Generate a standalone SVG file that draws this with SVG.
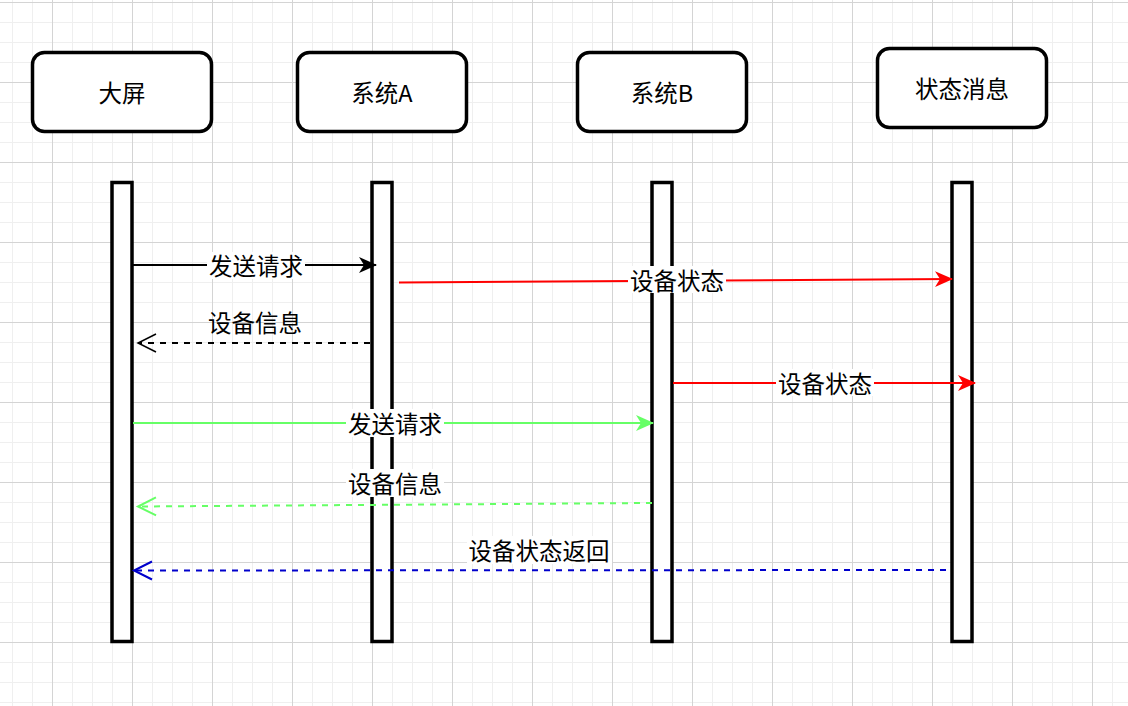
<svg xmlns="http://www.w3.org/2000/svg" width="1128" height="706" viewBox="0 0 1128 706">
<style>
.node{fill:#ffffff;stroke:#000000;stroke-width:3.5}
.bar{fill:#ffffff;stroke:#000000;stroke-width:3.5}
.t{font-family:"Noto Sans CJK SC","Noto Sans",sans-serif;font-size:23.5px;fill:#000000;text-anchor:middle;dominant-baseline:central}
.lbg{fill:#ffffff}
.e{fill:none;stroke-width:2}
.dash{stroke-dasharray:6 6}
</style>
<defs>
<pattern id="minor" patternUnits="userSpaceOnUse" x="12" y="2" width="20" height="20">
<path d="M0.5,0 V20 M0,0.5 H20" fill="none" stroke="#efefef" stroke-width="1"/>
</pattern>
<pattern id="major" patternUnits="userSpaceOnUse" x="52" y="2" width="80" height="80">
<path d="M0.5,0 V80 M0,0.5 H80" fill="none" stroke="#d4d4d4" stroke-width="1"/>
</pattern>
<marker id="fBlack" markerUnits="userSpaceOnUse" viewBox="0 0 18 18" markerWidth="18" markerHeight="18" refX="17" refY="9" orient="auto"><path d="M0,1 L18,9 L0,17 L5,9 Z" fill="#000000"/></marker>
<marker id="fRed" markerUnits="userSpaceOnUse" viewBox="0 0 18 18" markerWidth="18" markerHeight="18" refX="17" refY="9" orient="auto"><path d="M0,1 L18,9 L0,17 L5,9 Z" fill="#ff0000"/></marker>
<marker id="fGreen" markerUnits="userSpaceOnUse" viewBox="0 0 18 18" markerWidth="18" markerHeight="18" refX="17" refY="9" orient="auto"><path d="M0,1 L18,9 L0,17 L5,9 Z" fill="#66ff66"/></marker>
<marker id="oBlack" markerUnits="userSpaceOnUse" viewBox="0 0 24 24" markerWidth="24" markerHeight="24" refX="21" refY="12" orient="auto"><path d="M3,3 L21,12 L3,21" fill="none" stroke="#000000" stroke-width="1.5"/></marker>
<marker id="oGreen" markerUnits="userSpaceOnUse" viewBox="0 0 24 24" markerWidth="24" markerHeight="24" refX="21" refY="12" orient="auto"><path d="M3,3 L21,12 L3,21" fill="none" stroke="#66ff66" stroke-width="2"/></marker>
<marker id="oBlue" markerUnits="userSpaceOnUse" viewBox="0 0 24 24" markerWidth="24" markerHeight="24" refX="21" refY="12" orient="auto"><path d="M3,3 L21,12 L3,21" fill="none" stroke="#0000cc" stroke-width="2"/></marker>
</defs>
<rect x="0" y="0" width="1128" height="706" fill="#ffffff"/>
<rect x="0" y="0" width="1128" height="706" fill="url(#minor)"/>
<rect x="0" y="0" width="1128" height="706" fill="url(#major)"/>

<g id="node-dapin">
<rect class="node" x="32.5" y="52.5" width="179" height="79" rx="12"/>
<text class="t" x="122" y="92">大屏</text>
<rect class="bar" x="112" y="182.5" width="20" height="459"/>
</g>
<g id="node-xitongA">
<rect class="node" x="297.5" y="52.5" width="169" height="79" rx="12"/>
<text class="t" x="382" y="92">系统A</text>
<rect class="bar" x="372" y="182.5" width="20" height="459"/>
</g>
<g id="node-xitongB">
<rect class="node" x="577.5" y="52.5" width="169" height="79" rx="12"/>
<text class="t" x="662" y="92">系统B</text>
<rect class="bar" x="652" y="182.5" width="20" height="459"/>
</g>
<g id="node-zhuangtai">
<rect class="node" x="877.5" y="48.5" width="169" height="79" rx="12"/>
<text class="t" x="962" y="88">状态消息</text>
<rect class="bar" x="952" y="182.5" width="20" height="459"/>
</g>

<g id="connectors">
<g id="e1">
<line class="e" x1="133" y1="265" x2="376" y2="265" stroke="#000000" marker-end="url(#fBlack)"/>
<rect class="lbg" x="207" y="252" width="98" height="27"/>
<text class="t" x="256" y="265">发送请求</text>
</g>
<g id="e2">
<line class="e" x1="399" y1="282.5" x2="952" y2="279" stroke="#ff0000" marker-end="url(#fRed)"/>
<rect class="lbg" x="628" y="266" width="98" height="27"/>
<text class="t" x="677" y="280">设备状态</text>
</g>
<g id="e3">
<line class="e dash" x1="370" y1="343" x2="138" y2="343" stroke="#000000" marker-end="url(#oBlack)"/>
<text class="t" x="255" y="322">设备信息</text>
</g>
<g id="e4">
<line class="e" x1="673" y1="383" x2="975" y2="383" stroke="#ff0000" marker-end="url(#fRed)"/>
<rect class="lbg" x="776" y="369" width="98" height="27"/>
<text class="t" x="825" y="383">设备状态</text>
</g>
<g id="e5">
<line class="e" x1="133" y1="423" x2="653" y2="423" stroke="#66ff66" marker-end="url(#fGreen)"/>
<rect class="lbg" x="346" y="409" width="98" height="28"/>
<text class="t" x="395" y="423">发送请求</text>
</g>
<g id="e6">
<line class="e dash" x1="652" y1="503" x2="138" y2="506.5" stroke="#66ff66" marker-end="url(#oGreen)"/>
<rect class="lbg" x="346" y="469" width="98" height="28"/>
<text class="t" x="395" y="483">设备信息</text>
</g>
<g id="e7">
<line class="e dash" x1="946" y1="570" x2="134" y2="570.5" stroke="#0000cc" marker-end="url(#oBlue)"/>
<rect class="lbg" x="467" y="536" width="145" height="28"/>
<text class="t" x="539" y="550">设备状态返回</text>
</g>
</g>
</svg>
